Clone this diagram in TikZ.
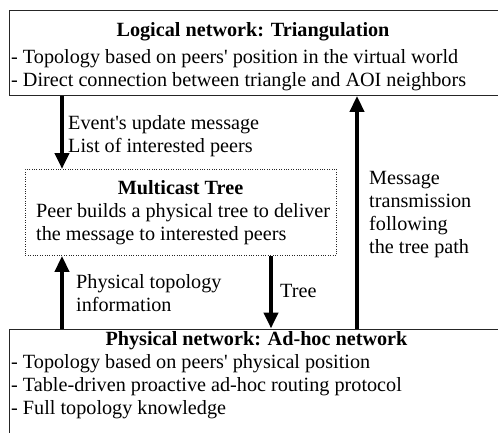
\documentclass[tikz,border=0pt]{standalone}
\usepackage{fontspec}
\setmainfont{Liberation Serif}
\usetikzlibrary{arrows.meta}

\begin{document}
\begin{tikzpicture}[x=1pt,y=-1pt,
    txt/.style={font=\fontsize{20.2}{22.8}\selectfont, inner sep=0pt},
    hd/.style={txt, font=\fontsize{20.2}{22.8}\selectfont\bfseries, anchor=base},
    ln/.style={txt, anchor=base west},
    lbl/.style={txt, align=left, anchor=base west},
    box/.style={draw=black!85, line width=0.9pt, inner sep=0pt, anchor=north west},
    mbox/.style={box, line width=0.9pt, dash pattern=on 1pt off 1.4pt},
    arr/.style={line width=4pt, -{Triangle[length=16pt,width=14pt]}}]
  \useasboundingbox (0,0) rectangle (498,432);

  % logical network
  \node[box, minimum width=488.5pt, minimum height=85pt] (logic) at (9,10) {};
  \node[hd] (logicT) at (253,36) {Logical network: Triangulation};
  \node[ln] (logicA) at (11,63) {- Topology based on peers\textquotesingle{} position in the virtual world};
  \node[ln] (logicB) at (11,86) {- Direct connection between triangle and AOI neighbors};

  % multicast tree
  \node[mbox, minimum width=311pt, minimum height=86pt] (multi) at (25,169) {};
  \node[hd] (multiT) at (180.5,194) {Multicast Tree};
  \node[ln] (multiA) at (36,217) {Peer builds a physical tree to deliver};
  \node[ln] (multiB) at (36,240) {the message to interested peers};

  % physical network
  \node[box, minimum width=495pt, minimum height=120pt] (phys) at (9,328.5) {};
  \node[hd] (physT) at (256.5,345) {Physical network: Ad-hoc network};
  \node[ln] (physA) at (11,368) {- Topology based on peers\textquotesingle{} physical position};
  \node[ln] (physB) at (11,391) {- Table-driven proactive ad-hoc routing protocol};
  \node[ln] (physC) at (11,414) {- Full topology knowledge};

  \coordinate (xL) at (62,0);
  \coordinate (xT) at (271,0);
  \coordinate (xM) at (357,0);
  \draw[arr] (logic.south -| xL) -- (multi.north -| xL);
  \draw[arr] (phys.north -| xL) -- (multi.south -| xL);
  \draw[arr] (multi.south -| xT) -- (phys.north -| xT);
  \draw[arr] (phys.north -| xM) -- (logic.south -| xM);

  \node[lbl] (evt) at (68,152) {Event\textquotesingle{}s update message\\List of interested peers};
  \node[lbl] (msg) at (369,253) {Message\\transmission\\following\\the tree path};
  \node[lbl] (topo) at (76,311) {Physical topology\\information};
  \node[ln] (tree) at (280,297) {Tree};
\end{tikzpicture}
\end{document}
